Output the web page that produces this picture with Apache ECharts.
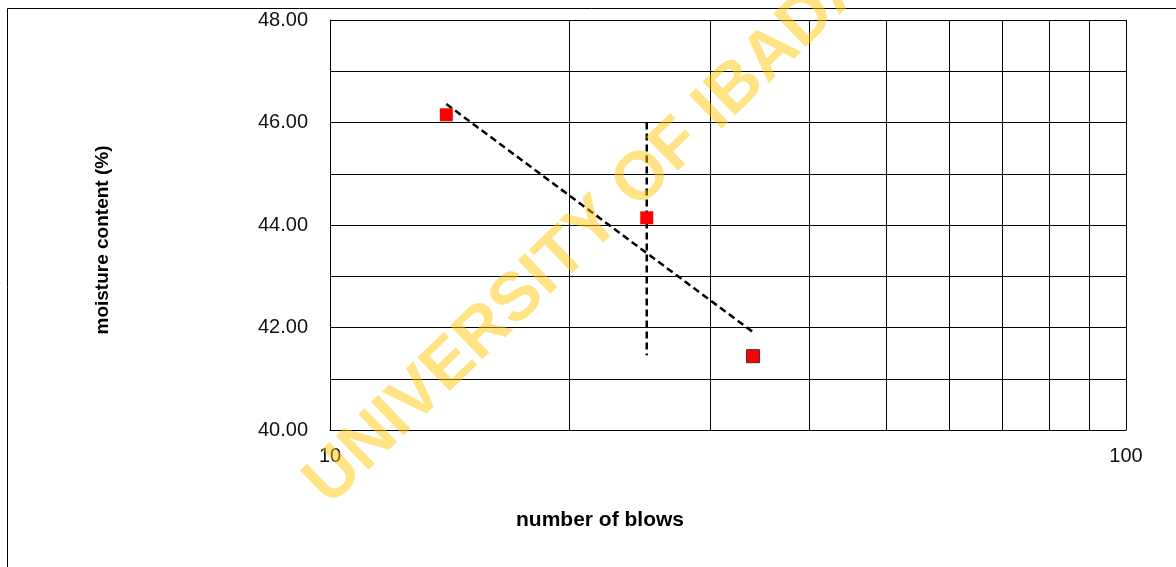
<!DOCTYPE html>
<html>
<head>
<meta charset="utf-8">
<script src="https://cdn.jsdelivr.net/npm/echarts@6/dist/echarts.min.js"></script>
<style>
html,body{margin:0;padding:0;background:#fff;}
#chart{width:1176px;height:567px;}
</style>
</head>
<body>
<div id="chart"></div>
<script>
// Data
var blows = [14, 25, 34];
var moisture = [46.15, 44.14, 41.44];
var trendLine = [[14, 46.36], [34, 41.91]];
var blows25Line = [[25, 46.0], [25, 41.46]];
var xMinorGrid = [20, 30, 40, 50, 60, 70, 80, 90];
var yTickLabels = {40: '40.00', 42: '42.00', 44: '44.00', 46: '46.00', 48: '48.00'};
var xTickLabels = {10: '10', 100: '100'};
var xTitle = 'number of blows';
var yTitle = 'moisture content (%)';
var watermark = 'UNIVERSITY OF IBADAN';

var FONT = '"Liberation Sans", Arial, sans-serif';
var chart = echarts.init(document.getElementById('chart'), null, {renderer: 'canvas'});

var pts = blows.map(function (b, i) {
  var p = {value: [b, moisture[i]]};
  if (i === 2) p.itemStyle = {borderColor: '#333', borderWidth: 1};
  return p;
});

chart.setOption({
  animation: false,
  backgroundColor: '#fff',
  grid: {left: 330, top: 20, right: 50, bottom: 137, containLabel: false},
  xAxis: {
    type: 'log', logBase: 10, min: 10, max: 100,
    axisLine: {show: true, lineStyle: {color: '#000', width: 1}},
    axisTick: {show: false},
    splitLine: {show: true, lineStyle: {color: '#000', width: 1}},
    axisLabel: {
      margin: 16, color: '#111', fontSize: 20, fontFamily: FONT,
      formatter: function (v) { return xTickLabels[Math.round(v)] || ''; }
    }
  },
  yAxis: {
    type: 'value', min: 40, max: 48, interval: 1,
    axisLine: {show: true, lineStyle: {color: '#000', width: 1}},
    axisTick: {show: false},
    splitLine: {show: true, lineStyle: {color: '#000', width: 1}},
    axisLabel: {
      margin: 22, color: '#111', fontSize: 20, fontFamily: FONT,
      formatter: function (v) { return yTickLabels[Math.round(v)] || ''; }
    }
  },
  series: [
    {
      type: 'line', data: trendLine, symbol: 'none', z: 3,
      lineStyle: {color: '#000', width: 2.5, type: [7, 4]},
      markLine: {
        silent: true, symbol: 'none', label: {show: false},
        lineStyle: {color: '#000', width: 1, type: 'solid'},
        data: xMinorGrid.map(function (v) { return {xAxis: v}; })
      }
    },
    {
      type: 'line', data: blows25Line, symbol: 'none', z: 3,
      lineStyle: {color: '#000', width: 2.5, type: [7, 4]}
    },
    {
      type: 'scatter', data: pts, symbol: 'rect', symbolSize: 13, z: 4,
      itemStyle: {color: '#ff0000', opacity: 1}
    }
  ],
  graphic: [
    {type: 'polyline', shape: {points: [[7.5, 567], [7.5, 8.5], [1176, 8.5]]},
     style: {stroke: '#000', lineWidth: 1, fill: null}, silent: true},
    {type: 'text', x: 600, y: 520, silent: true,
     style: {text: xTitle, font: 'bold 21px ' + FONT, fill: '#000', align: 'center', verticalAlign: 'middle'}},
    {type: 'text', x: 103, y: 240, rotation: Math.PI / 2, silent: true,
     style: {text: yTitle, font: 'bold 19px ' + FONT, fill: '#000', align: 'center', verticalAlign: 'middle'}},
    {type: 'text', x: 606, y: 214, rotation: 44 * Math.PI / 180, z: 100, silent: true,
     style: {text: watermark, font: 'bold 68px ' + FONT, fill: 'rgba(255,196,0,0.48)', align: 'center', verticalAlign: 'middle'}}
  ]
});
</script>
</body>
</html>
